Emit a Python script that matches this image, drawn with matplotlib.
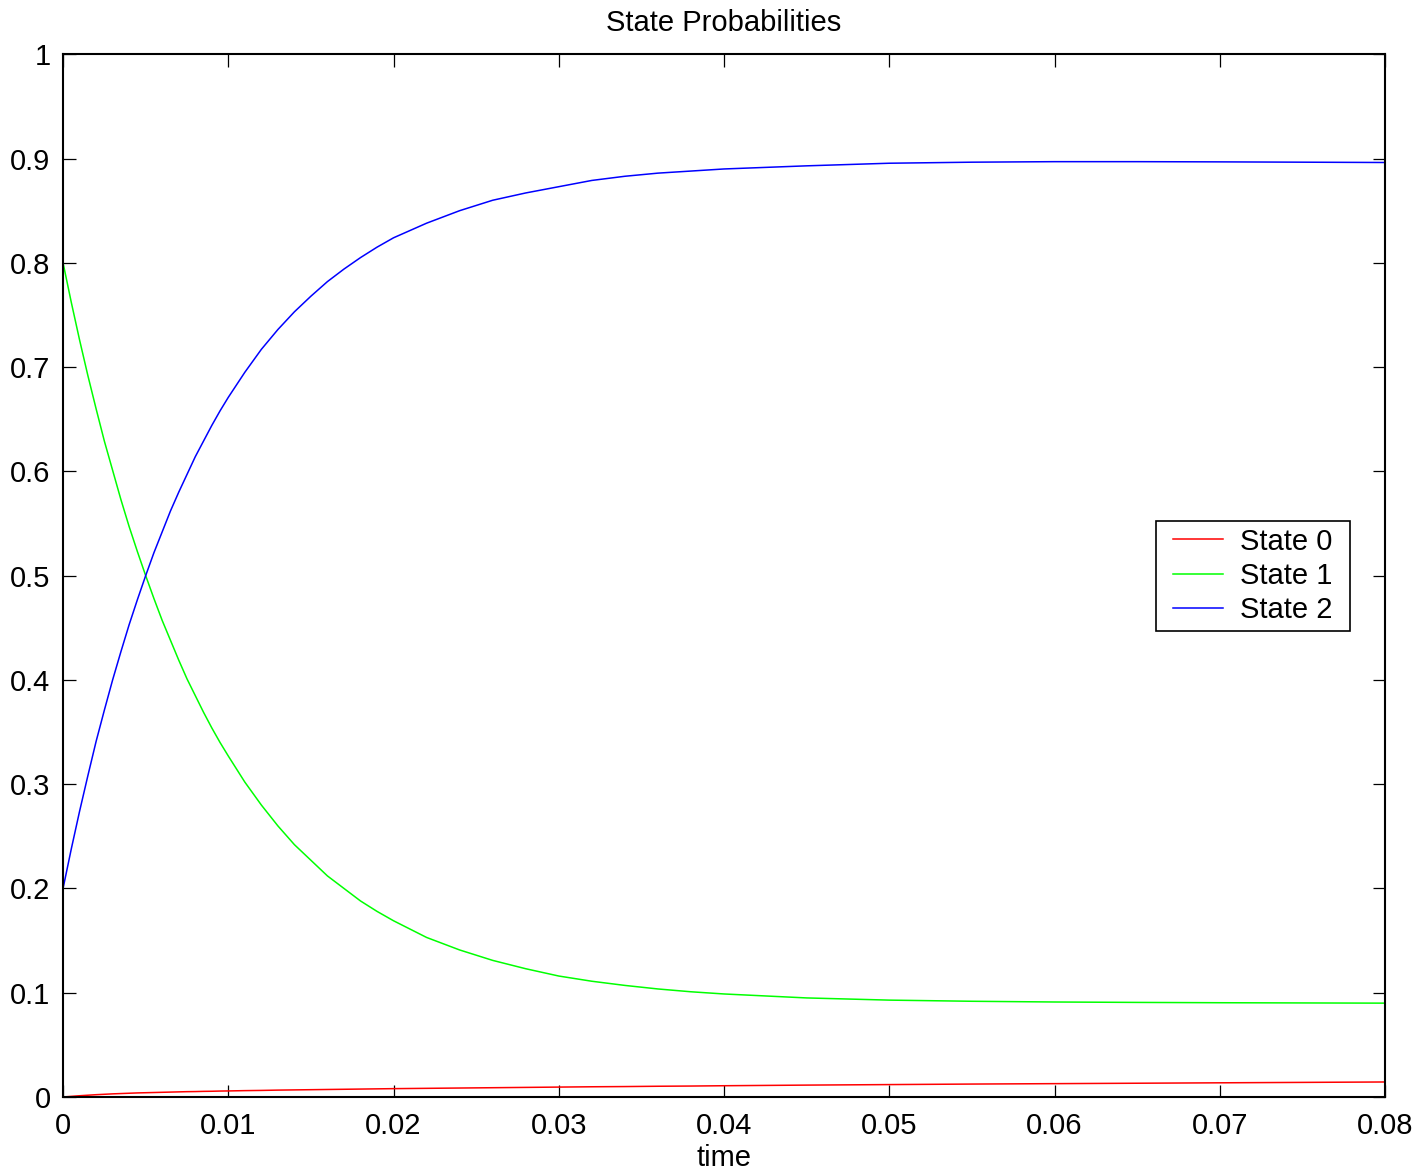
import matplotlib
matplotlib.use("Agg")
import matplotlib.pyplot as plt
import numpy as np
from matplotlib.ticker import FormatStrFormatter
from matplotlib.offsetbox import DrawingArea

plt.rcParams["font.family"] = ["Liberation Sans", "DejaVu Sans"]

# values
time = [0, 0.0005, 0.001, 0.0015, 0.002, 0.0025, 0.003, 0.0035, 0.004,
        0.0045, 0.005, 0.0055, 0.006, 0.0065, 0.007, 0.0075, 0.008, 0.0085,
        0.009, 0.0095, 0.010,
        0.011, 0.012, 0.013, 0.014, 0.015, 0.016, 0.017, 0.018, 0.019, 0.020,
        0.022, 0.024, 0.026, 0.028, 0.030, 0.032, 0.034, 0.036, 0.038, 0.040,
        0.045, 0.050, 0.055, 0.060, 0.065, 0.070, 0.075, 0.080]

state0 = [0, 0.0006, 0.0012, 0.0017, 0.0022, 0.0026, 0.0030, 0.0033, 0.0036,
          0.0039, 0.0041, 0.0043, 0.0045, 0.0047, 0.0049, 0.0051, 0.0052,
          0.0054, 0.0055, 0.0057, 0.0058,
          0.0061, 0.0063, 0.0066, 0.0068, 0.0070, 0.0072, 0.0074, 0.0076,
          0.0078, 0.0080,
          0.0083, 0.0086, 0.0089, 0.0092, 0.0095, 0.0098, 0.0100, 0.0103,
          0.0105, 0.0108,
          0.0114, 0.0119, 0.0124, 0.0128, 0.0132, 0.0136, 0.0140, 0.0144]

state1 = [0.800, 0.762, 0.726, 0.692, 0.660, 0.629, 0.601, 0.573, 0.547,
          0.523, 0.500, 0.478, 0.457, 0.438, 0.419, 0.401, 0.385, 0.369,
          0.354, 0.340, 0.327,
          0.302, 0.280, 0.260, 0.242, 0.227, 0.212, 0.200, 0.188, 0.178,
          0.169,
          0.153, 0.141, 0.131, 0.123, 0.116, 0.111, 0.107, 0.1036, 0.1009,
          0.0988,
          0.0950, 0.0929, 0.0918, 0.0911, 0.0907, 0.0904, 0.0902, 0.0900]

state2 = [0.200, 0.238, 0.274, 0.308, 0.341, 0.371, 0.400, 0.427, 0.453,
          0.477, 0.500, 0.522, 0.542, 0.562, 0.580, 0.597, 0.614, 0.629,
          0.644, 0.658, 0.671,
          0.695, 0.717, 0.736, 0.753, 0.768, 0.782, 0.794, 0.805, 0.815,
          0.824,
          0.838, 0.850, 0.860, 0.867, 0.873, 0.879, 0.883, 0.886, 0.888,
          0.890,
          0.893, 0.8955, 0.8965, 0.8970, 0.8970, 0.8968, 0.8965, 0.8962]

labels = ["State 0", "State 1", "State 2"]
colors = ["#ff0000", "#00ff00", "#0000ff"]

fig = plt.figure(figsize=(14.2, 11.72), dpi=100)
ax = fig.add_axes([0.0444, 0.064, 0.931, 0.8897])

for vals, lab, col in zip([state0, state1, state2], labels, colors):
    ax.plot(time, vals, color=col, lw=1.1, label=lab)

ax.set_xlim(0, 0.08)
ax.set_ylim(0, 1)
ax.set_xticks(np.arange(0, 0.081, 0.01))
ax.set_yticks(np.arange(0, 1.01, 0.1))
ax.xaxis.set_major_formatter(FormatStrFormatter("%g"))
ax.yaxis.set_major_formatter(FormatStrFormatter("%g"))
ax.tick_params(direction="in", length=9, width=0.9, labelsize=21,
               top=True, right=True)
ax.tick_params(axis="x", pad=11)
ax.tick_params(axis="y", pad=9)
for sp in ax.spines.values():
    sp.set_linewidth(1.5)

ax.set_title("State Probabilities", fontsize=21, pad=17)
ax.set_xlabel("time", fontsize=21, labelpad=3)

leg = ax.legend(loc="upper left", bbox_to_anchor=(0.8268, 0.5523),
                fontsize=21, fancybox=False, framealpha=1, edgecolor="black",
                handlelength=1.7, handletextpad=0.6, labelspacing=0.22,
                borderpad=0.22, borderaxespad=0)
leg.get_frame().set_linewidth(1.2)

# extra side padding inside the legend box (wider than it is tall)
hb = leg._legend_handle_box
hb._children = [DrawingArea(7.6, 0), *hb._children, DrawingArea(7.6, 0)]
hb.sep = 0

fig.savefig("out.png", dpi=100)
